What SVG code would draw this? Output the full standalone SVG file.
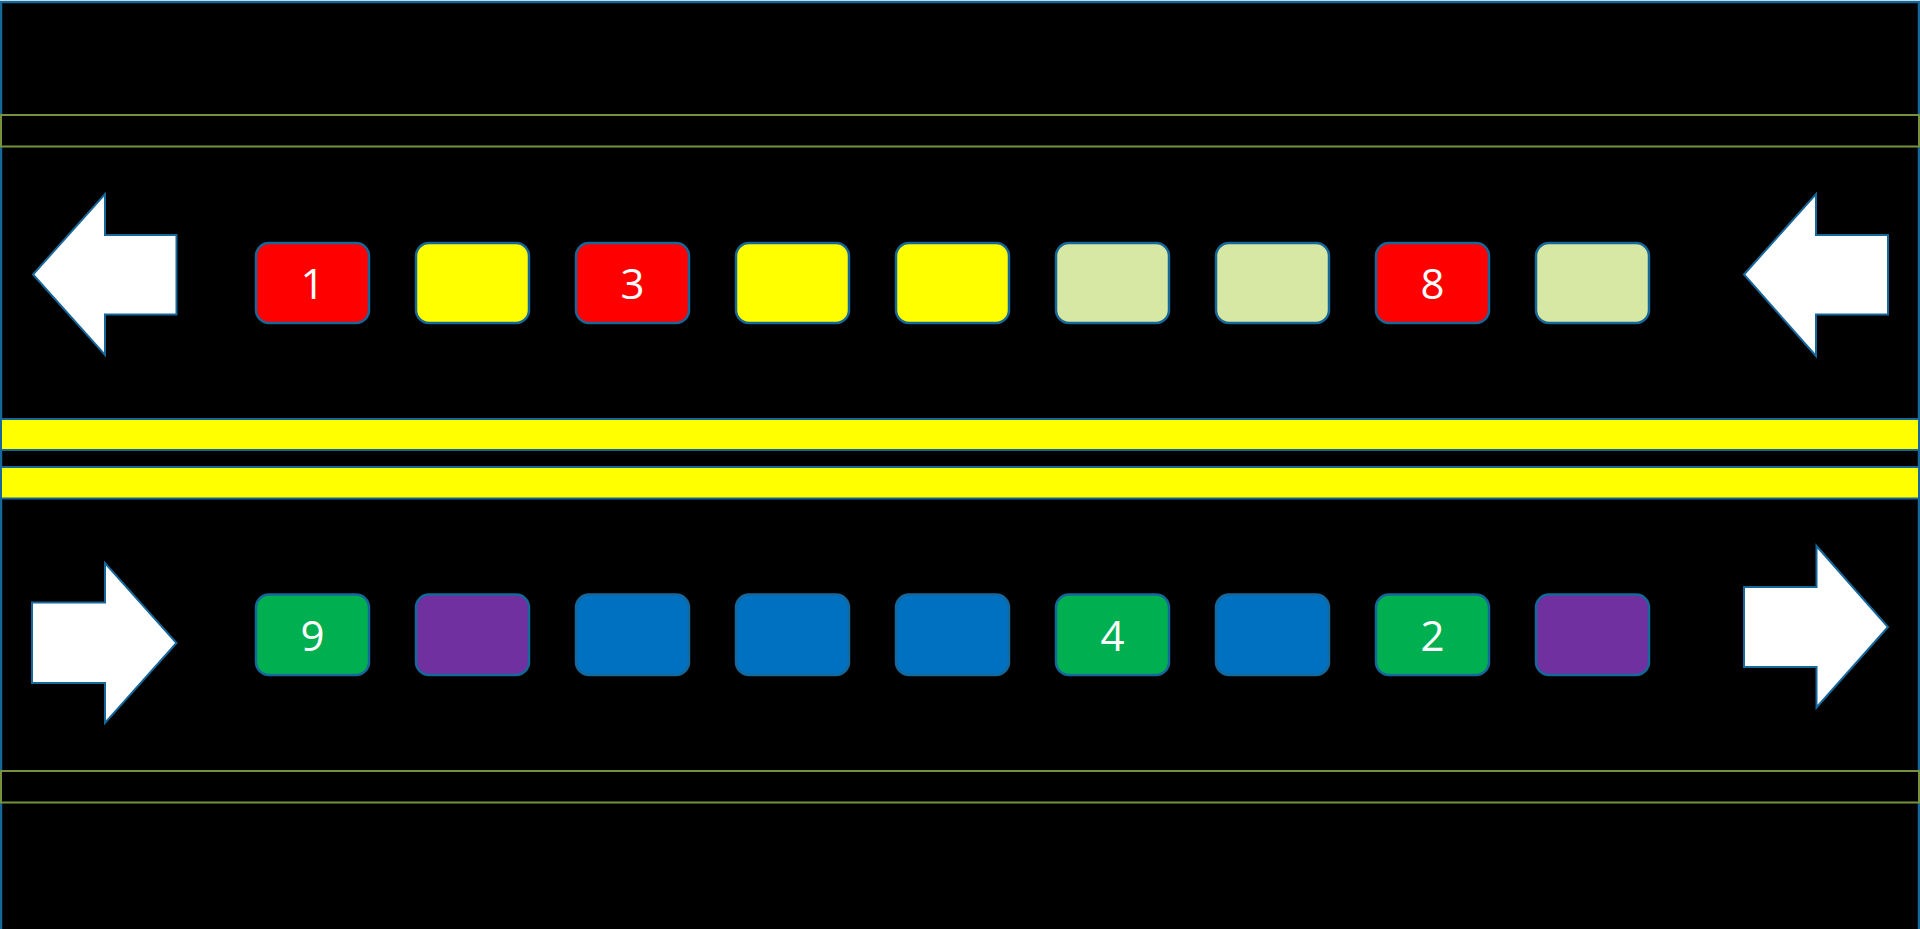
<svg xmlns="http://www.w3.org/2000/svg" width="1920" height="929" viewBox="0 0 1920 929">
<style>
.frame{fill:#000;stroke:#16679A;stroke-width:2.5}
.band{fill:#000;stroke:#76923C;stroke-width:2}
.yband{fill:#FFFF00;stroke:#16679A;stroke-width:2}
.arrow{fill:#FFFFFF;stroke:#16679A;stroke-width:2}
.box{stroke:#16679A;stroke-width:2.5}
.red{fill:#FF0000}.yel{fill:#FFFF00}.lg{fill:#D7E7A4}.grn{fill:#00B050}.blu{fill:#0070C0}.pur{fill:#7030A0}
.lbl{fill:#FFFFFF;font-family:"Open Sans","Liberation Sans",sans-serif;font-size:42px;text-anchor:middle}
</style>
<rect class="frame" x="1" y="2" width="1918" height="950"/>
<g id="lanes">
<rect class="band" x="1" y="115" width="1918" height="31.5"/>
<rect class="band" x="1" y="771" width="1918" height="31.5"/>
<rect class="yband" x="1" y="419" width="1918" height="31"/>
<rect class="yband" x="1" y="467" width="1918" height="31.5"/>
</g>
<g id="connectors">
<polygon id="arrow-ul" class="arrow" points="33,274.5 105,194 105,235 176.5,235 176.5,314.5 105,314.5 105,355"/>
<polygon id="arrow-ur" class="arrow" points="1744,274.5 1816,194 1816,235 1888,235 1888,314.5 1816,314.5 1816,356"/>
<polygon id="arrow-ll" class="arrow" points="32,602.5 105,602.5 105,563 176.5,643 105,723 105,683 32,683"/>
<polygon id="arrow-lr" class="arrow" points="1744,587 1816.5,587 1816.5,546 1888,627 1816.5,707.5 1816.5,667 1744,667"/>
</g>
<g id="u1"><rect class="box red" x="256" y="243" width="113" height="80" rx="13"/><text class="lbl" x="312.5" y="299">1</text></g>
<g id="u2"><rect class="box yel" x="416" y="243" width="113" height="80" rx="13"/></g>
<g id="u3"><rect class="box red" x="576" y="243" width="113" height="80" rx="13"/><text class="lbl" x="632.5" y="299">3</text></g>
<g id="u4"><rect class="box yel" x="736" y="243" width="113" height="80" rx="13"/></g>
<g id="u5"><rect class="box yel" x="896" y="243" width="113" height="80" rx="13"/></g>
<g id="u6"><rect class="box lg" x="1056" y="243" width="113" height="80" rx="13"/></g>
<g id="u7"><rect class="box lg" x="1216" y="243" width="113" height="80" rx="13"/></g>
<g id="u8"><rect class="box red" x="1376" y="243" width="113" height="80" rx="13"/><text class="lbl" x="1432.5" y="299">8</text></g>
<g id="u9"><rect class="box lg" x="1536" y="243" width="113" height="80" rx="13"/></g>
<g id="l1"><rect class="box grn" x="256" y="594.5" width="113" height="80.5" rx="13"/><text class="lbl" x="312.5" y="651">9</text></g>
<g id="l2"><rect class="box pur" x="416" y="594.5" width="113" height="80.5" rx="13"/></g>
<g id="l3"><rect class="box blu" x="576" y="594.5" width="113" height="80.5" rx="13"/></g>
<g id="l4"><rect class="box blu" x="736" y="594.5" width="113" height="80.5" rx="13"/></g>
<g id="l5"><rect class="box blu" x="896" y="594.5" width="113" height="80.5" rx="13"/></g>
<g id="l6"><rect class="box grn" x="1056" y="594.5" width="113" height="80.5" rx="13"/><text class="lbl" x="1112.5" y="651">4</text></g>
<g id="l7"><rect class="box blu" x="1216" y="594.5" width="113" height="80.5" rx="13"/></g>
<g id="l8"><rect class="box grn" x="1376" y="594.5" width="113" height="80.5" rx="13"/><text class="lbl" x="1432.5" y="651">2</text></g>
<g id="l9"><rect class="box pur" x="1536" y="594.5" width="113" height="80.5" rx="13"/></g>
</svg>
